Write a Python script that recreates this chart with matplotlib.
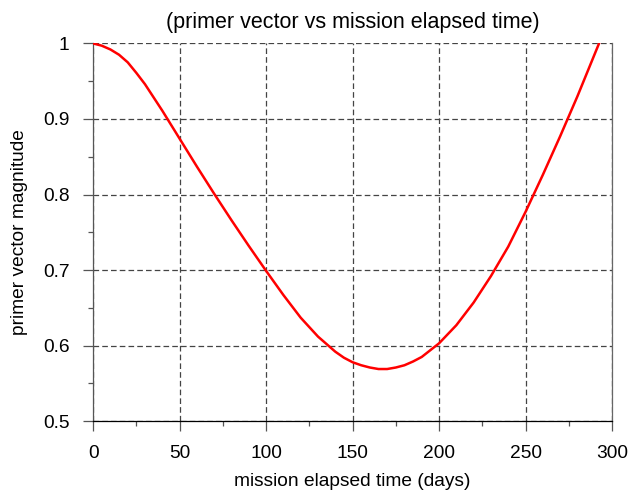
import matplotlib
matplotlib.use("Agg")
import matplotlib.pyplot as plt

plt.rcParams["font.family"] = ["Liberation Sans", "DejaVu Sans"]

# values
days = [0, 5, 10, 15, 20, 25, 30, 40, 50, 60, 70, 80, 90, 100, 110, 120,
        130, 140, 145, 150, 155, 160, 165, 170, 175, 180, 185, 190, 200,
        210, 220, 230, 240, 250, 260, 270, 280, 290, 292.5]
primer = [1.000, 0.997, 0.992, 0.985, 0.975, 0.961, 0.946, 0.911, 0.874,
          0.837, 0.801, 0.766, 0.732, 0.699, 0.667, 0.637, 0.612, 0.592,
          0.584, 0.578, 0.574, 0.571, 0.569, 0.569, 0.571, 0.574, 0.579,
          0.585, 0.603, 0.627, 0.657, 0.692, 0.731, 0.777, 0.826, 0.877,
          0.930, 0.986, 1.000]

xticks = [0, 50, 100, 150, 200, 250, 300]
yticks = [0.5, 0.6, 0.7, 0.8, 0.9, 1.0]
ytick_labels = ["0.5", "0.6", "0.7", "0.8", "0.9", "1"]

fig = plt.figure(figsize=(6.29, 4.99), dpi=100)
ax = fig.add_axes([0.148, 0.156, 0.825, 0.757])

ax.plot(days, primer, color="#ff0000", linewidth=1.8, zorder=3)

ax.set_xlim(0, 300)
ax.set_ylim(0.5, 1.0)
ax.set_xticks(xticks)
ax.set_xticklabels([str(x) for x in xticks])
ax.set_yticks(yticks)
ax.set_yticklabels(ytick_labels)
ax.set_xticks([25, 75, 125, 175, 225, 275], minor=True)
ax.set_yticks([0.55, 0.65, 0.75, 0.85, 0.95], minor=True)

ax.grid(True, which="major", color="#444444", linestyle=(0, (4.5, 2.5)),
        linewidth=0.9)
ax.tick_params(which="major", direction="out", length=7.5, width=0.9,
               color="#555555", labelsize=13.8, pad=9.5)
ax.tick_params(which="minor", direction="out", length=3.6, width=0.9,
               color="#555555")

ax.spines["top"].set_visible(False)
ax.spines["left"].set_color("#555555")
ax.spines["right"].set_color("#666666")
ax.spines["bottom"].set_color("#000000")
for s in ax.spines.values():
    s.set_linewidth(0.9)

ax.set_title("(primer vector vs mission elapsed time)", fontsize=15.5, pad=11)
ax.set_xlabel("mission elapsed time (days)", fontsize=13.8, labelpad=8)
ax.set_ylabel("primer vector magnitude", fontsize=13.8, labelpad=11)

fig.savefig("out.png", dpi=100)
